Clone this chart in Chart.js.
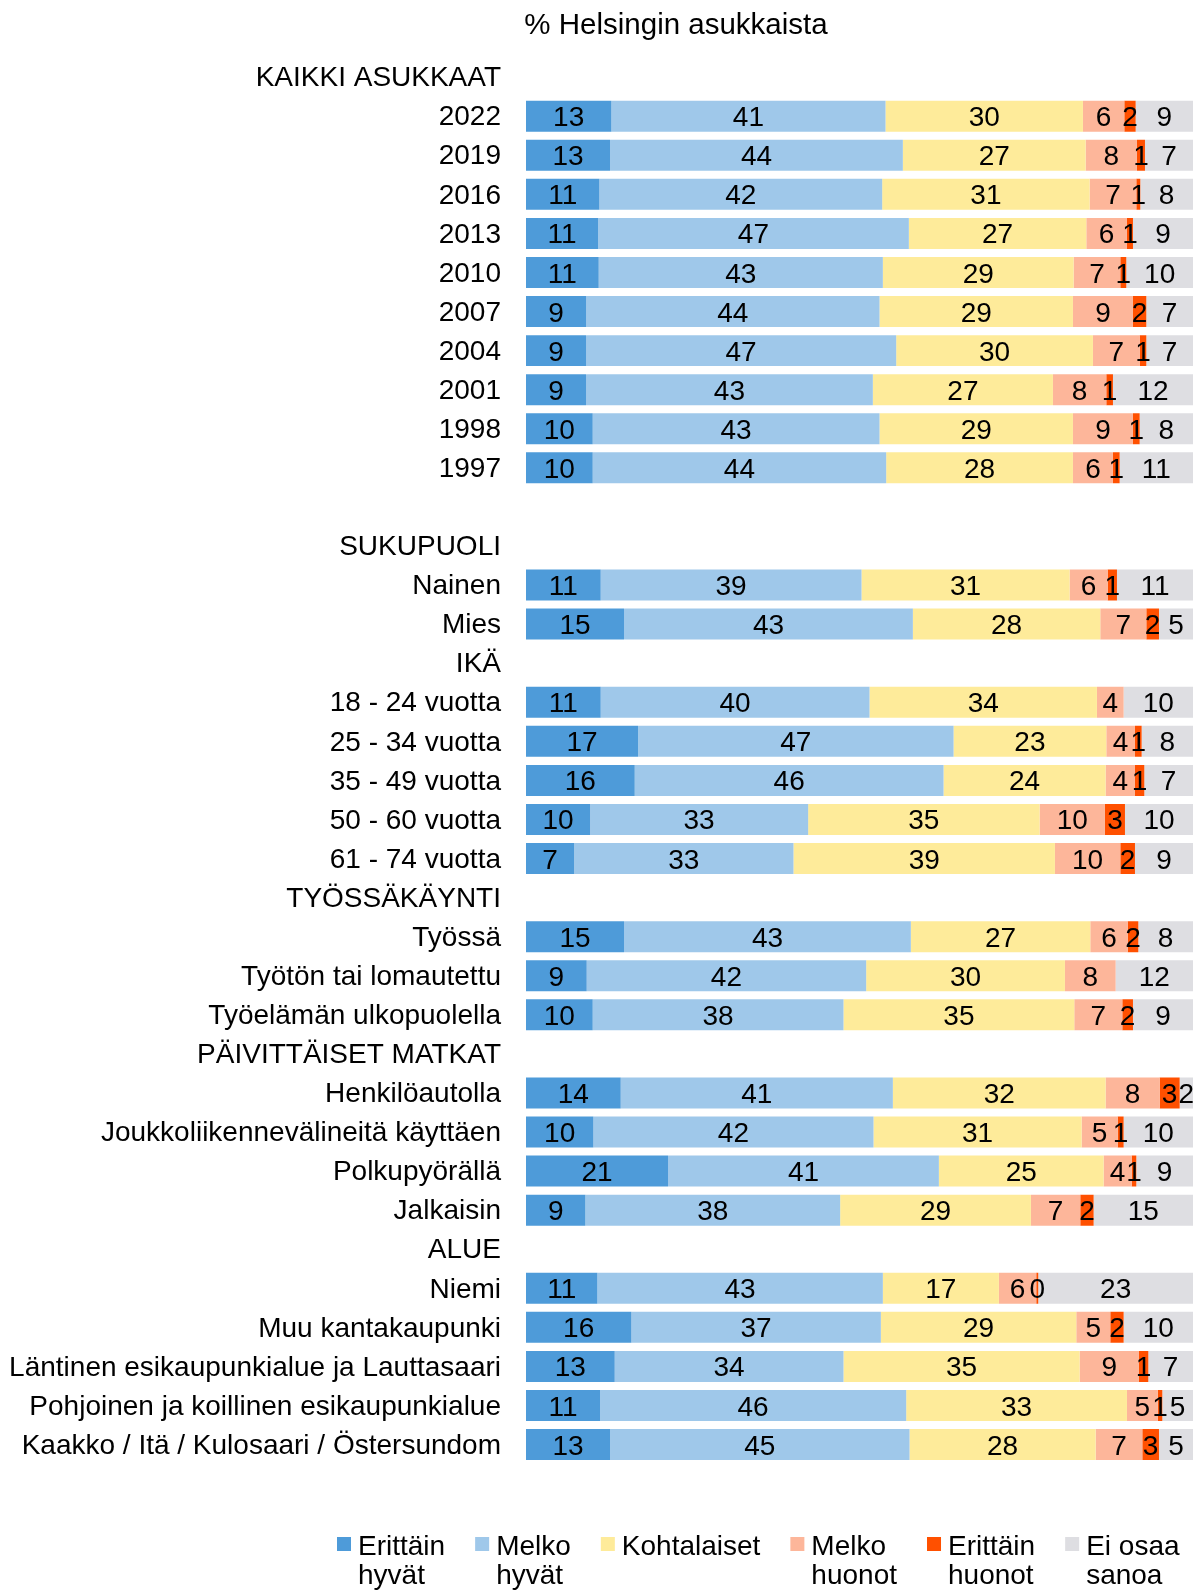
<!DOCTYPE html>
<html>
<head>
<meta charset="utf-8">
<script src="https://cdn.jsdelivr.net/npm/chart.js@4/dist/chart.umd.min.js"></script>
<style>
  html, body { margin: 0; padding: 0; background: #fff; }
  canvas { display: block; }
</style>
</head>
<body>
<canvas id="c" width="1202" height="1590"></canvas>
<script>
const chartTitle = '% Helsingin asukkaista';

const categories = [
  'KAIKKI ASUKKAAT', '2022', '2019', '2016', '2013', '2010', '2007', '2004', '2001', '1998', '1997',
  '',
  'SUKUPUOLI', 'Nainen', 'Mies',
  'IKÄ', '18 - 24 vuotta', '25 - 34 vuotta', '35 - 49 vuotta', '50 - 60 vuotta', '61 - 74 vuotta',
  'TYÖSSÄKÄYNTI', 'Työssä', 'Työtön tai lomautettu', 'Työelämän ulkopuolella',
  'PÄIVITTÄISET MATKAT', 'Henkilöautolla', 'Joukkoliikennevälineitä käyttäen', 'Polkupyörällä', 'Jalkaisin',
  'ALUE', 'Niemi', 'Muu kantakaupunki', 'Läntinen esikaupunkialue ja Lauttasaari',
  'Pohjoinen ja koillinen esikaupunkialue', 'Kaakko / Itä / Kulosaari / Östersundom'
];

const seriesLegendLines = [
  ['Erittäin', 'hyvät'],
  ['Melko', 'hyvät'],
  ['Kohtalaiset'],
  ['Melko', 'huonot'],
  ['Erittäin', 'huonot'],
  ['Ei osaa', 'sanoa']
];

const erittainHyvat = [null, 12.8, 12.6, 11.0, 10.8, 10.9, 9.0, 9.0, 9.0, 10.0, 10.0,
  null, null, 11.2, 14.7, null, 11.2, 16.8, 16.3, 9.6, 7.2,
  null, 14.7, 9.1, 10.0, null, 14.2, 10.1, 21.3, 8.9,
  null, 10.7, 15.8, 13.3, 11.1, 12.6];

const melkoHyvat = [null, 41.1, 43.9, 42.4, 46.6, 42.6, 44.0, 46.5, 43.0, 43.0, 44.0,
  null, null, 39.1, 43.3, null, 40.3, 47.3, 46.3, 32.7, 32.9,
  null, 43.0, 41.9, 37.6, null, 40.8, 42.0, 40.6, 38.2,
  null, 42.8, 37.4, 34.3, 45.9, 44.9];

const kohtalaiset = [null, 29.6, 27.4, 31.1, 26.6, 28.6, 29.0, 29.5, 27.0, 29.0, 28.0,
  null, null, 31.2, 28.1, null, 34.1, 22.9, 24.3, 34.7, 39.2,
  null, 26.9, 29.8, 34.6, null, 31.9, 31.2, 24.7, 28.6,
  null, 17.4, 29.3, 35.4, 33.1, 27.9];

const melkoHuonot = [null, 6.2, 7.7, 7.0, 6.1, 7.0, 9.0, 7.0, 8.0, 9.0, 6.0,
  null, null, 5.7, 6.9, null, 4.0, 4.3, 4.4, 9.8, 9.8,
  null, 5.6, 7.6, 7.2, null, 8.1, 5.4, 4.2, 7.4,
  null, 5.6, 5.1, 8.9, 4.6, 7.0];

const erittainHuonot = [null, 1.7, 1.2, 0.6, 0.9, 0.9, 2.0, 1.0, 1.0, 1.0, 1.0,
  null, null, 1.4, 1.9, null, null, 1.0, 1.4, 3.0, 2.2,
  null, 1.6, null, 1.6, null, 3.0, 0.9, 0.7, 2.0,
  null, 0.3, 2.0, 1.4, 0.7, 2.5];

const eiOsaaSanoa = [null, 8.6, 7.2, 7.9, 9.0, 10.0, 7.0, 7.0, 12.0, 8.0, 11.0,
  null, null, 11.4, 5.1, null, 10.4, 7.7, 7.3, 10.2, 8.7,
  null, 8.2, 11.6, 9.0, null, 2.0, 10.4, 8.5, 14.9,
  null, 23.2, 10.4, 6.7, 4.6, 5.1];

const seriesValues = [erittainHyvat, melkoHyvat, kohtalaiset, melkoHuonot, erittainHuonot, eiOsaaSanoa];
const seriesColors = ['#4e9bd9', '#9fc8ea', '#feeb9a', '#fdb69a', '#ff5000', '#dedee2'];

const FONT = '"Liberation Sans", Arial, sans-serif';
const FS = 28;

const datasets = seriesValues.map((vals, i) => ({
  label: seriesLegendLines[i].join(' '),
  data: vals,
  backgroundColor: seriesColors[i],
  borderWidth: 0,
  barPercentage: 0.793,
  categoryPercentage: 1.0
}));

const labelPlugin = {
  id: 'segLabels',
  afterDatasetsDraw(chart) {
    const ctx = chart.ctx;
    ctx.save();
    ctx.font = FS + 'px ' + FONT;
    ctx.fillStyle = '#000';
    ctx.textAlign = 'center';
    ctx.textBaseline = 'alphabetic';
    chart.data.datasets.forEach((ds, i) => {
      const meta = chart.getDatasetMeta(i);
      meta.data.forEach((el, j) => {
        const v = ds.data[j];
        if (v === null || v === undefined) return;
        const p = el.getCenterPoint();
        ctx.fillText(String(Math.round(v)), p.x, p.y + FS * 0.716 / 2);
      });
    });
    ctx.restore();
  }
};

const titleLegendPlugin = {
  id: 'titleLegend',
  afterDraw(chart) {
    const ctx = chart.ctx;
    ctx.save();
    ctx.fillStyle = '#000';
    ctx.textBaseline = 'alphabetic';
    // title
    ctx.font = '29.5px ' + FONT;
    ctx.textAlign = 'center';
    ctx.fillText(chartTitle, 676, 34);
    // legend
    ctx.font = FS + 'px ' + FONT;
    ctx.textAlign = 'left';
    let x = 337;
    const box = 14, gapText = 21, gapItem = 30;
    const y1 = 1555, lh = 29;
    seriesLegendLines.forEach((lines, i) => {
      ctx.fillStyle = seriesColors[i];
      ctx.fillRect(x, 1537, box, box);
      ctx.fillStyle = '#000';
      let w = 0;
      lines.forEach((t, k) => {
        ctx.fillText(t, x + gapText, y1 + k * lh);
        w = Math.max(w, ctx.measureText(t).width);
      });
      x += gapText + w + gapItem;
    });
    ctx.restore();
  }
};

new Chart(document.getElementById('c'), {
  type: 'bar',
  data: { labels: categories, datasets },
  options: {
    indexAxis: 'y',
    responsive: false,
    animation: false,
    layout: { padding: { top: 57.6, bottom: 125.9, left: 0, right: 9 } },
    plugins: {
      legend: { display: false },
      title: { display: false },
      tooltip: { enabled: false }
    },
    scales: {
      x: { stacked: true, min: 0, max: 100, display: false },
      y: {
        stacked: true,
        grid: { display: false, drawTicks: false },
        border: { display: false },
        ticks: {
          autoSkip: false,
          padding: 25,
          labelOffset: 1.5,
          color: '#000',
          font: { family: FONT, size: FS }
        },
        afterFit(scale) { scale.width = 526; }
      }
    }
  },
  plugins: [labelPlugin, titleLegendPlugin]
});
</script>
</body>
</html>
